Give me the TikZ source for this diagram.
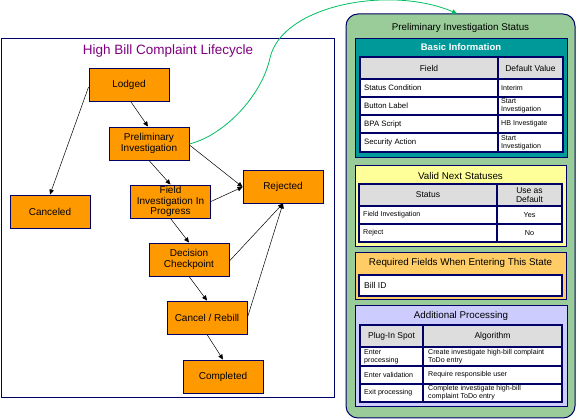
\documentclass[tikz,border=0pt]{standalone}
\usepackage{fontspec}
\setmainfont{Liberation Sans}
\usetikzlibrary{arrows.meta}
\definecolor{navy}{HTML}{000066}
\definecolor{stateorange}{HTML}{FF9900}
\definecolor{titlepurple}{HTML}{800080}
\definecolor{panelgreen}{HTML}{99CC99}
\definecolor{tealbox}{HTML}{009999}
\definecolor{yellowbox}{HTML}{FFFF99}
\definecolor{orangebox}{HTML}{FFCC66}
\definecolor{lavbox}{HTML}{CCCCFF}
\definecolor{hdrgray}{HTML}{DDDDDD}
\definecolor{linkgreen}{HTML}{00C060}
\begin{document}
\begin{tikzpicture}[x=1pt,y=-1pt,
  state/.style={draw=navy, line width=0.9pt, fill=stateorange, minimum width=80pt, minimum height=33pt, inner sep=0pt, align=center, font=\fontsize{10}{10.5}\selectfont},
  arr/.style={-{Triangle[length=5pt,width=4.5pt]}, line width=0.5pt, black},
  box/.style={draw=navy, line width=1pt},
  tbl/.style={draw=navy, line width=1.2pt},
  boxtitle/.style={font=\fontsize{9.8}{11}\selectfont, inner sep=0pt},
  hdr/.style={font=\fontsize{8.5}{9.5}\selectfont, inner sep=0pt, align=center},
  cellA/.style={anchor=west, font=\fontsize{7.8}{8.5}\selectfont, inner sep=0pt, align=left},
  cellB/.style={anchor=west, font=\fontsize{7.1}{7.7}\selectfont, inner sep=0pt, align=left},
  cellC/.style={font=\fontsize{7.3}{8}\selectfont, inner sep=0pt, align=center}
]
\useasboundingbox (0,0) rectangle (576,419);
\fill[white] (0,0) rectangle (576,419);

% left frame
\draw[box] (1,39) rectangle (334,398);
\node[text=titlepurple, font=\fontsize{13.5}{15}\selectfont, inner sep=0pt] (lctitle) at (168,51) {High Bill Complaint Lifecycle};

% states
\node[state] (lodged) at (129,85) {Lodged};
\node[state] (prelim) at (149,143.5) {Preliminary\\Investigation};
\node[state] (rejected) at (283,186.5) {Rejected};
\node[state] (field) at (170.5,201.5) {Field\\Investigation In\\Progress};
\node[state] (canceled) at (50,211.5) {Canceled};
\node[state] (decision) at (189,259.5) {Decision\\Checkpoint};
\node[state] (rebill) at (207,317.5) {Cancel / Rebill};
\node[state] (completed) at (223,376.5) {Completed};

% transitions
\draw[arr] ([xshift=2pt]lodged.south) -- ([xshift=-1pt]prelim.north);
\draw[arr] ([yshift=-2pt]lodged.west) -- (canceled.north);
\draw[arr] (prelim.south) -- (field.north);
\draw[arr] ([yshift=-1.5pt]prelim.east) -- ([yshift=-0.5pt]rejected.west);
\draw[arr] (field.east) -- ([yshift=-0.5pt]rejected.west);
\draw[arr] (field.south) -- (decision.north);
\draw[arr] ([yshift=-1.5pt]decision.east) -- (rejected.south);
\draw[arr] (decision.south) -- (rebill.north);
\draw[arr] (rebill.east) -- (rejected.south);
\draw[arr] (rebill.south) -- (completed.north);

% right panel
\node[draw=navy, line width=1pt, fill=panelgreen, rounded corners=12pt, minimum width=229pt, minimum height=404pt, inner sep=0pt] (panel) at (460.5,216) {};
\node[boxtitle] (ptitle) at (460.5,28) {Preliminary Investigation Status};

% link curve
\draw[linkgreen, line width=0.8pt, -{Triangle[length=5pt,width=4.5pt]}] ([yshift=-0.5pt]prelim.east) .. controls (225,135) and (262,95) .. (270,58) .. controls (282,5) and (390,-15) .. ([xshift=-3.5pt]panel.north);

% Basic information
\draw[box, fill=tealbox] (355,39) rectangle (567,158);
\node[boxtitle, text=white, font=\bfseries\fontsize{9.5}{11}\selectfont] (bititle) at (461,47) {Basic Information};
\fill[hdrgray] (360,57) rectangle (563,79);
\fill[white] (360,79) rectangle (563,152);
\draw[tbl] (360,57) rectangle (563,152);
\draw[tbl] (498,57) -- (498,152);
\draw[tbl] (360,79) -- (563,79);
\draw[tbl] (360,97) -- (563,97);
\draw[tbl] (360,115) -- (563,115);
\draw[navy, line width=2.2pt] (360,133) -- (563,133);
\node[hdr] (bih1) at (429,68) {Field};
\node[hdr] (bih2) at (530.5,68) {Default Value};
\node[cellA] (bia1) at (364,88) {Status Condition};
\node[cellB] (bib1) at (501,88) {Interim};
\node[cellA] (bia2) at (364,106) {Button Label};
\node[cellB] (bib2) at (501,106) {Start\\Investigation};
\node[cellA] (bia3) at (364,124) {BPA Script};
\node[cellB] (bib3) at (501,124) {HB Investigate};
\node[cellA] (bia4) at (364,142.5) {Security Action};
\node[cellB] (bib4) at (501,142.5) {Start\\Investigation};

% Valid next statuses
\draw[box, fill=yellowbox] (355,166) rectangle (566,247);
\node[boxtitle] (vtitle) at (460.5,176) {Valid Next Statuses};
\fill[hdrgray] (359,184) rectangle (562,206);
\fill[white] (359,206) rectangle (562,242);
\draw[tbl] (359,184) rectangle (562,242);
\draw[tbl] (497,184) -- (497,242);
\draw[tbl] (359,206) -- (562,206);
\draw[tbl] (359,224) -- (562,224);
\node[hdr] (vh1) at (428,195) {Status};
\node[hdr] (vh2) at (529.5,195) {Use as\\Default};
\node[cellB] (va1) at (363,215) {Field Investigation};
\node[cellC] (vb1) at (529.5,215) {Yes};
\node[cellB] (va2) at (363,233) {Reject};
\node[cellC] (vb2) at (529.5,233) {No};

% Required fields
\draw[box, fill=orangebox] (355,253) rectangle (566,300);
\node[boxtitle] (rtitle) at (460.5,263) {Required Fields When Entering This State};
\draw[tbl, fill=white] (359,275) rectangle (562,296);
\node[anchor=west, font=\fontsize{8.5}{10}\selectfont, inner sep=0pt] (rbill) at (364,285.5) {Bill ID};

% Additional processing
\draw[box, fill=lavbox] (355,306) rectangle (567,407);
\node[boxtitle] (atitle) at (461,316) {Additional Processing};
\fill[hdrgray] (360,325) rectangle (562,347);
\fill[white] (360,347) rectangle (562,402);
\draw[tbl] (360,325) rectangle (562,402);
\draw[tbl] (423,325) -- (423,402);
\draw[tbl] (360,347) -- (562,347);
\draw[tbl] (360,366) -- (562,366);
\draw[tbl] (360,384) -- (562,384);
\node[hdr] (ah1) at (391.5,336) {Plug-In Spot};
\node[hdr] (ah2) at (492.5,336) {Algorithm};
\node[cellB] (aa1) at (364,356.5) {Enter\\processing};
\node[cellB] (ab1) at (428,356.5) {Create investigate high-bill complaint\\ToDo entry};
\node[cellB] (aa2) at (364,375) {Enter validation};
\node[cellB] (ab2) at (428,375) {Require responsible user};
\node[cellB] (aa3) at (364,393) {Exit processing};
\node[cellB] (ab3) at (428,393) {Complete investigate high-bill\\complaint ToDo entry};
\end{tikzpicture}
\end{document}
